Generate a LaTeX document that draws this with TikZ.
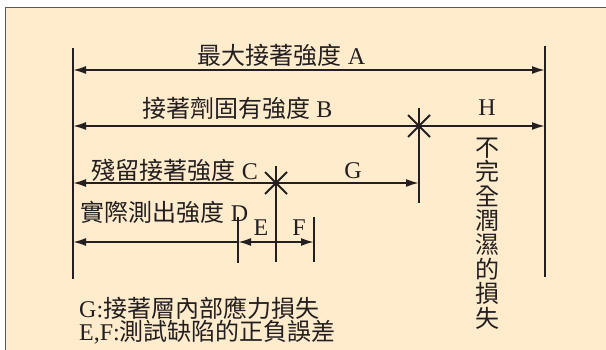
\documentclass[tikz,border=0pt]{standalone}
\usepackage{fontspec}
\setmainfont{Liberation Serif}
\newfontfamily\cjk{Noto Sans CJK TC}
\usetikzlibrary{arrows.meta,calc}
\newcommand\zh[1]{{\cjk #1}}
\definecolor{bgpeach}{HTML}{FEECCD}
\definecolor{ink}{HTML}{231F20}
\definecolor{framegray}{HTML}{5A5A5A}
\begin{document}
\begin{tikzpicture}[x=1pt,y=-1pt,
  dim/.style={line width=1.8pt, draw=ink},
  lt/.style={{Latex[length=13pt,width=8pt]}-},
  rt/.style={-{Latex[length=13pt,width=8pt]}},
  both/.style={{Latex[length=13pt,width=8pt]}-{Latex[length=13pt,width=8pt]}},
  lbl/.style={inner sep=0pt, text=ink, font=\fontsize{24}{24}\selectfont},
]
\useasboundingbox (0,0) rectangle (606,350);
\fill[bgpeach] (5.5,7.5) rectangle (612,356);
\draw[framegray, line width=1.5pt] (5.5,356) -- (5.5,7.5) -- (612,7.5);

% extension lines
\coordinate (LT) at (73,48);  \coordinate (LB) at (73,279);
\coordinate (RT) at (545,46); \coordinate (RB) at (545,277);
\draw[dim] (LT) -- (LB);
\draw[dim] (RT) -- (RB);

% A
\coordinate (A1) at (73,70); \coordinate (A2) at (545,70);
\draw[dim,both] (A1) -- (A2);
\node[lbl] (lA) at (281.5,55) {\zh{最大接著強度} A};

% B
\coordinate (B1) at (73,126); \coordinate (B2) at (545,126);
\coordinate (sB) at (419,126);
\draw[dim,both] (B1) -- (B2);
\node[lbl] (lB) at (237.5,108) {\zh{接著劑固有強度} B};
\node[lbl] (lH) at (487,108) {H};
\coordinate (sBt) at (419,108); \coordinate (sBb) at (419,203);
\draw[dim] (sBt) -- (sBb);
\draw[dim] ($(sB)+(-11,-11)$) -- ($(sB)+(11,11)$);
\draw[dim] ($(sB)+(-11,11)$) -- ($(sB)+(11,-11)$);

% C
\coordinate (C1) at (73,183); \coordinate (C2) at (419,183);
\coordinate (sC) at (276,183);
\draw[dim,both] (C1) -- (C2);
\node[lbl] (lC) at (175,170) {\zh{殘留接著強度} C};
\node[lbl] (lG) at (353,171) {G};
\coordinate (sCt) at (276,166); \coordinate (sCb) at (276,262);
\draw[dim] (sCt) -- (sCb);
\draw[dim] ($(sC)+(-11,-11)$) -- ($(sC)+(11,11)$);
\draw[dim] ($(sC)+(-11,11)$) -- ($(sC)+(11,-11)$);

% D, E, F
\coordinate (D1) at (73,242); \coordinate (D2) at (238,242);
\coordinate (EF) at (276,242); \coordinate (F2) at (314,242);
\coordinate (Dt) at (238,217); \coordinate (Db) at (238,263);
\coordinate (Ft) at (314,217); \coordinate (Fb) at (314,262);
\draw[dim] (Dt) -- (Db);
\draw[dim] (Ft) -- (Fb);
\draw[dim,lt] (D1) -- (D2);
\draw[dim,rt] (EF) -- (D2);
\draw[dim,rt] (EF) -- (F2);
\node[lbl] (lD) at (164.5,212) {\zh{實際測出強度} D};
\node[lbl] (lE) at (261,228) {E};
\node[lbl] (lF) at (299,228) {F};

% vertical text
\node[lbl, align=center, font=\fontsize{24}{24.4}\selectfont] (lV) at (487,233.5)
  {\zh{不}\\\zh{完}\\\zh{全}\\\zh{潤}\\\zh{濕}\\\zh{的}\\\zh{損}\\\zh{失}};

% notes
\node[lbl, anchor=west] (n1) at (79,308) {G:\zh{接著層內部應力損失}};
\node[lbl, anchor=west] (n2) at (79,332) {E,F:\zh{測試缺陷的正負誤差}};
\end{tikzpicture}
\end{document}
